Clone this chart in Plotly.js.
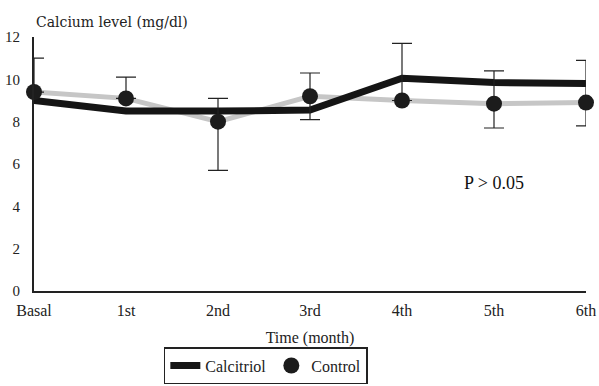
<!DOCTYPE html>
<html><head><meta charset="utf-8">
<script src="https://cdn.plot.ly/plotly-3.0.1.min.js"></script>
<style>body{margin:0;background:#fff}#c{width:599px;height:386px}</style>
</head><body><div id="c"></div>
<script>
const months = ["Basal","1st","2nd","3rd","4th","5th","6th"];
const calcitriol = [9.0, 8.5, 8.5, 8.55, 10.05, 9.85, 9.8];
const control = [9.4, 9.1, 8.0, 9.2, 9.0, 8.85, 8.9];
const errUpper = [1.6, 1.0, 1.1, 1.1, 2.7, 1.55, 2.0];
const errLower = [0, 0, 2.3, 1.1, 0, 1.15, 1.1];
const yTicks = [0,2,4,6,8,10,12];

const serif = "Liberation Serif, DejaVu Serif, serif";
const wide = "DejaVu Serif, serif";
const traces = [
  {x: months, y: control, type: "scatter", mode: "lines", showlegend: false,
   line: {color: "#c6c6c6", width: 5}, hoverinfo: "skip"},
  {x: months, y: calcitriol, type: "scatter", mode: "lines", name: "Calcitriol",
   line: {color: "#151515", width: 7}},
  {x: months, y: control, type: "scatter", mode: "markers", name: "Control",
   marker: {color: "#1c1c1c", size: 16},
   error_y: {type: "data", symmetric: false, array: errUpper, arrayminus: errLower,
     color: "#222", thickness: 1.2, width: 10}, cliponaxis: false}
];
const layout = {
  width: 599, height: 386,
  margin: {l: 34, r: 13, t: 37, b: 95, autoexpand: false},
  paper_bgcolor: "#fff", plot_bgcolor: "#fff",
  font: {family: serif, size: 14, color: "#222"},
  xaxis: {type: "category", range: [0, 6], showgrid: false, zeroline: false, automargin: false,
    showline: true, linecolor: "#222", linewidth: 2, ticks: "", ticklabelstandoff: 4,
    tickfont: {family: serif, size: 16, color: "#222"},
    title: {text: "Time (month)", font: {family: serif, size: 16, color: "#222"}, standoff: 14}},
  yaxis: {range: [0, 12], tickvals: yTicks, showgrid: false, zeroline: false, automargin: false,
    showline: true, linecolor: "#222", linewidth: 2, ticks: "", ticklabelstandoff: 9,
    tickfont: {family: serif, size: 15, color: "#222"}},
  showlegend: true,
  legend: {orientation: "h", x: 0.42, xanchor: "center", yref: "container", y: 0.005, yanchor: "bottom",
    bordercolor: "#222", borderwidth: 1.5, font: {family: serif, size: 16, color: "#222"},
    itemwidth: 30, tracegroupgap: 0, itemclick: false},
  annotations: [
    {xref: "paper", yref: "paper", x: 0.0, y: 1.0, xanchor: "left", yanchor: "bottom",
     yshift: 5, text: "Calcium level (mg/dl)", showarrow: false,
     font: {family: wide, size: 14, color: "#222"}},
    {xref: "x", yref: "y", x: 5.0, y: 5.1, text: "P > 0.05", showarrow: false,
     font: {family: serif, size: 18, color: "#111"}}
  ]
};
Plotly.newPlot("c", traces, layout, {displayModeBar: false, staticPlot: true});
</script></body></html>
